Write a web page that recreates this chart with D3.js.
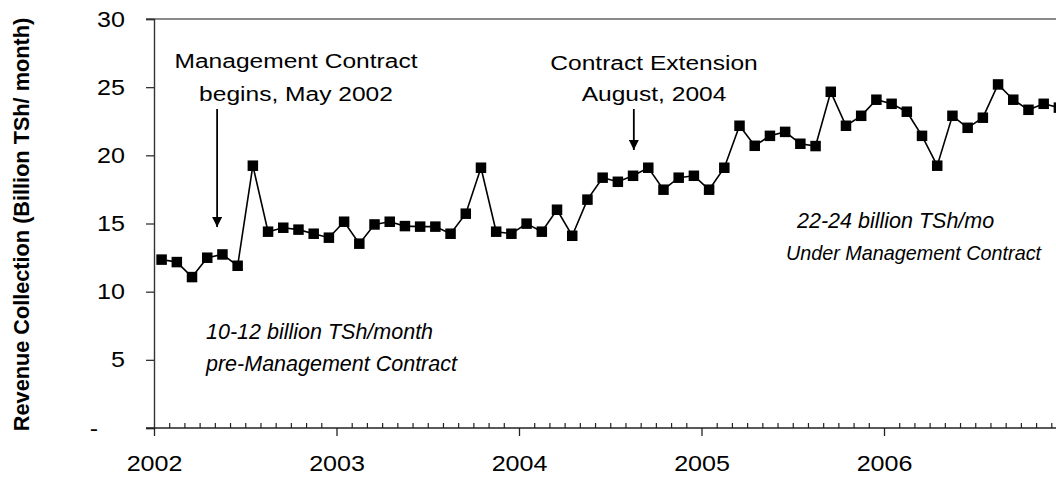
<!DOCTYPE html>
<html lang="en">
<head>
<meta charset="utf-8">
<title>Revenue collection 2002-2006</title>
<script src="https://cdn.jsdelivr.net/npm/d3@7"></script>
<style>
  body { margin: 0; background: #fff; }
  svg { display: block; font-family: "Liberation Sans", Arial, sans-serif; }
</style>
</head>
<body>
<script>
// monthly revenue, Jan 2002 .. Dec 2006 (billion TSh)
const revenue = [
  12.35, 12.17, 11.07, 12.49, 12.73, 11.9, 19.24, 14.4, 14.69, 14.55, 14.25, 13.96,
  15.13, 13.52, 14.93, 15.13, 14.81, 14.77, 14.77, 14.25, 15.72, 19.09, 14.4, 14.25,
  14.99, 14.4, 16.01, 14.1, 16.75, 18.36, 18.06, 18.5, 19.09, 17.48, 18.36, 18.5,
  17.48, 19.09, 22.17, 20.7, 21.43, 21.72, 20.85, 20.68, 24.66, 22.17, 22.9, 24.08,
  23.78, 23.2, 21.43, 19.24, 22.9, 22.02, 22.76, 25.2, 24.08, 23.34, 23.78, 23.5
];
const yearLabels = ["2002", "2003", "2004", "2005", "2006"];
const yearStarts = [0, 12, 24, 36, 48];
const yTicks = [0, 5, 10, 15, 20, 25, 30];

// arrows: month position, start value, tip value
const arrows = [
  { month: 4.15, from: 23.4, to: 14.74 },
  { month: 31.55, from: 23.4, to: 20.39 }
];

let w = 1056, h = 479;
let sx = 1.14;   // tick labels are a little wider than Arial
let sxNote = 1.17;

let x = d3.scaleLinear().domain([0, 60]).range([154, 1066.5]);
let y = d3.scaleLinear().domain([0, 30]).range([428, 19]);

let svg = d3.select("body").append("svg")
  .attr("width", w)
  .attr("height", h);

// top border of plot area
svg.append("line")
  .attr("x1", 146).attr("x2", w)
  .attr("y1", y(30)).attr("y2", y(30))
  .attr("stroke", "#8a8a8a").attr("stroke-width", 1.8);

//Y axis
let yAxis = svg.append("g")
  .attr("transform", `translate(${x(0)},0)`)
  .call(d3.axisLeft(y).tickValues(yTicks).tickSize(8).tickPadding(21)
    .tickFormat(d => d === 0 ? "-" : d));
yAxis.select(".domain").attr("stroke", "#333").attr("stroke-width", 1.4);
yAxis.selectAll(".tick line").attr("stroke", "#333").attr("stroke-width", 1.3);
yAxis.selectAll("text")
  .attr("fill", "#000")
  .style("font-size", "22px")
  .attr("x", d => (d === 0 ? -56 : -29) / sx)
  .attr("transform", `scale(${sx},1)`);

//X axis: months as minor ticks, years as major ticks
let minor = d3.range(1, 60).filter(m => m % 12 !== 0);
let xMinor = svg.append("g")
  .attr("transform", `translate(0,${y(0)})`)
  .call(d3.axisBottom(x).tickValues(minor).tickSize(-5).tickFormat(""));
xMinor.select(".domain").attr("stroke", "#222").attr("stroke-width", 1.4)
  .attr("d", `M146,0H${w}`);
xMinor.selectAll(".tick line").attr("stroke", "#222").attr("stroke-width", 1.2);

let xMajor = svg.append("g")
  .attr("transform", `translate(0,${y(0)})`)
  .call(d3.axisBottom(x).tickValues(yearStarts).tickSize(8).tickPadding(19)
    .tickFormat((d, i) => yearLabels[i]));
xMajor.select(".domain").remove();
xMajor.selectAll(".tick line").attr("stroke", "#222").attr("stroke-width", 1.3);
xMajor.selectAll("text")
  .attr("fill", "#000")
  .style("font-size", "22px")
  .attr("transform", `scale(${sx},1)`);

//Y axis title
svg.append("text")
  .attr("transform", `translate(29,${y(15) + 1}) rotate(-90)`)
  .attr("text-anchor", "middle")
  .style("font-size", "21.7px")
  .style("font-weight", "bold")
  .text("Revenue Collection (Billion TSh/ month)");

//Line and square markers
let line = d3.line()
  .x((d, i) => x(i + 0.5))
  .y(d => y(d));

svg.append("path")
  .datum(revenue)
  .attr("d", line)
  .attr("fill", "none")
  .attr("stroke", "#000")
  .attr("stroke-width", 1.6);

let s = 10.5;
svg.selectAll("rect.pt")
  .data(revenue)
  .enter()
  .append("rect")
  .attr("class", "pt")
  .attr("x", (d, i) => x(i + 0.5) - s / 2)
  .attr("y", d => y(d) - s / 2)
  .attr("width", s)
  .attr("height", s)
  .attr("fill", "#000");

//Arrows
svg.append("defs").append("marker")
  .attr("id", "head")
  .attr("markerUnits", "userSpaceOnUse")
  .attr("viewBox", "0 0 10 10")
  .attr("refX", 10).attr("refY", 5)
  .attr("markerWidth", 10).attr("markerHeight", 10)
  .attr("orient", "auto")
  .append("path")
  .attr("d", "M0,0L10,5L0,10Z")
  .attr("fill", "#000");

svg.selectAll("line.arrow")
  .data(arrows)
  .enter()
  .append("line")
  .attr("class", "arrow")
  .attr("x1", d => x(d.month)).attr("x2", d => x(d.month))
  .attr("y1", d => y(d.from)).attr("y2", d => y(d.to))
  .attr("stroke", "#000")
  .attr("stroke-width", 1.8)
  .attr("marker-end", "url(#head)");

//Annotation text
function note(lines, px, py, step, anchor, italic) {
  let t = svg.append("text")
    .attr("transform", `translate(${px},${py}) scale(${italic ? 1 : sxNote},1)`)
    .attr("text-anchor", anchor)
    .style("font-size", italic ? "21.5px" : "21px")
    .style("font-style", italic ? "italic" : "normal");
  lines.forEach((l, i) => {
    t.append("tspan").attr("x", 0).attr("y", i * step).text(l);
  });
  return t;
}

note(["Management Contract", "begins, May 2002"], 296, 68, 33, "middle", false);
note(["Contract Extension", "August, 2004"], 654, 70, 31, "middle", false);
note(["10-12 billion TSh/month", "pre-Management Contract"], 206, 339, 32, "start", true);
note(["22-24 billion TSh/mo", "Under Management Contract"], 797, 228, 32, "start", true)
  .select("tspan:nth-child(2)")
  .attr("x", -11)
  .style("font-size", "19.8px");
</script>
</body>
</html>
